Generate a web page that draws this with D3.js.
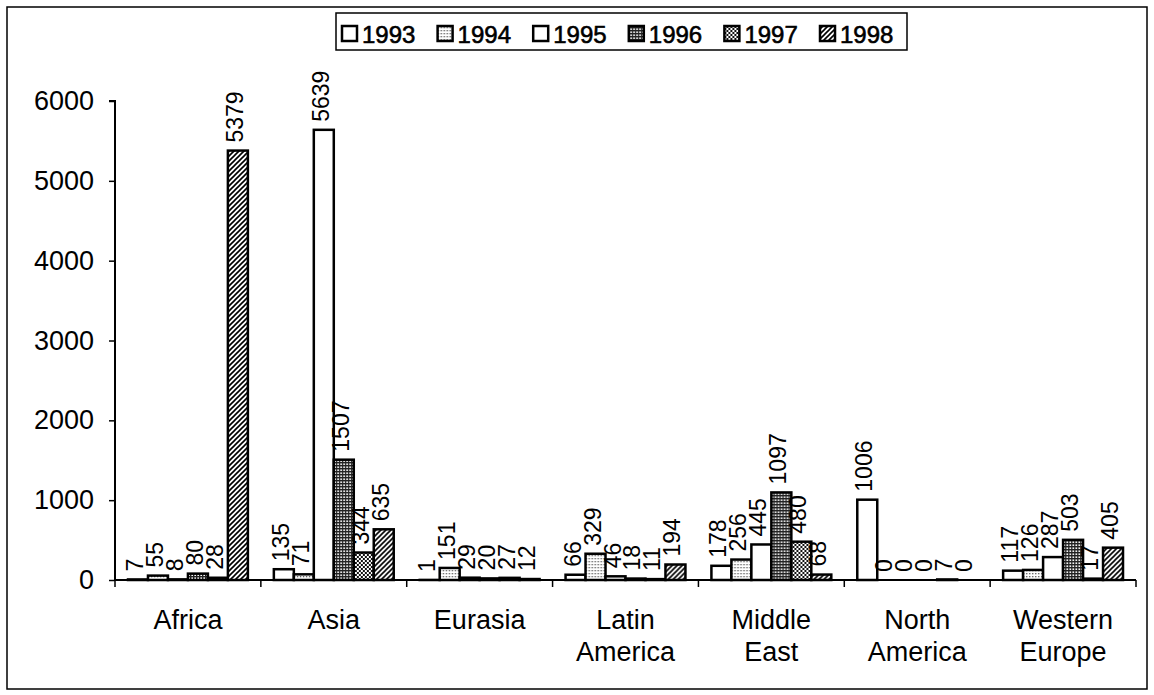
<!DOCTYPE html>
<html>
<head>
<meta charset="utf-8">
<script src="https://cdn.jsdelivr.net/npm/d3@7"></script>
<style>
  html, body { margin: 0; padding: 0; background: #fff; }
  svg { display: block; font-family: Arial, "Liberation Sans", sans-serif; }
</style>
</head>
<body>
<svg id="chart" width="1154" height="695"></svg>
<script>
// Regions on the category axis (wrapped onto two lines where needed)
const categories = ["Africa", "Asia", "Eurasia", "Latin America", "Middle East", "North America", "Western Europe"];
const categoryLines = [["Africa"], ["Asia"], ["Eurasia"], ["Latin", "America"], ["Middle", "East"], ["North", "America"], ["Western", "Europe"]];

// One series per year
const years = ["1993", "1994", "1995", "1996", "1997", "1998"];
const v1993 = [7, 135, 1, 66, 178, 1006, 117];
const v1994 = [55, 71, 151, 329, 256, 0, 126];
const v1995 = [8, 5639, 29, 46, 445, 0, 287];
const v1996 = [80, 1507, 20, 18, 1097, 0, 503];
const v1997 = [28, 344, 27, 11, 480, 7, 17];
const v1998 = [5379, 635, 12, 194, 68, 0, 405];
const seriesValues = [v1993, v1994, v1995, v1996, v1997, v1998];

const yTicks = [0, 1000, 2000, 3000, 4000, 5000, 6000];

const svg = d3.select("#chart");
const defs = svg.append("defs");

// Monochrome fill patterns, one per year
function addPattern(id, size, draw) {
  const p = defs.append("pattern")
    .attr("id", id)
    .attr("patternUnits", "userSpaceOnUse")
    .attr("width", size).attr("height", size);
  p.append("rect").attr("width", size).attr("height", size).attr("fill", "#fff");
  draw(p);
}
// fine grey stipple
addPattern("pFine", 3, p => {
  p.append("rect").attr("x", 0).attr("y", 0).attr("width", 1.3).attr("height", 1.3).attr("fill", "#555");
});
// dense dark grid
addPattern("pGrid", 3, p => {
  p.append("rect").attr("x", 0).attr("y", 0).attr("width", 3).attr("height", 1.4).attr("fill", "#222");
  p.append("rect").attr("x", 0).attr("y", 0).attr("width", 1.4).attr("height", 3).attr("fill", "#222");
});
// coarse checker dots
addPattern("pCheck", 4, p => {
  p.append("rect").attr("x", 0).attr("y", 0).attr("width", 2).attr("height", 2).attr("fill", "#111");
  p.append("rect").attr("x", 2).attr("y", 2).attr("width", 2).attr("height", 2).attr("fill", "#111");
});
// diagonal hatch ////
addPattern("pHatch", 5, p => {
  p.append("path").attr("d", "M-1,6 L6,-1 M-1,1 L1,-1 M4,6 L6,4")
    .attr("stroke", "#000").attr("stroke-width", 1.6);
});

const fills = ["#fff", "url(#pFine)", "#fff", "url(#pGrid)", "url(#pCheck)", "url(#pHatch)"];

// Outer frame
svg.append("rect")
  .attr("x", 7).attr("y", 7).attr("width", 1140).attr("height", 682)
  .attr("fill", "none").attr("stroke", "#000").attr("stroke-width", 1.5);

// Scales
const x0 = d3.scaleBand().domain(categories).range([115, 1136]).paddingInner(0).paddingOuter(0);
const x1 = d3.scaleBand().domain(years).range([0, x0.bandwidth()]).paddingInner(0).paddingOuter(0.65);
const y = d3.scaleLinear().domain([0, 6000]).range([580, 101]);

// Y axis
const yAxis = svg.append("g")
  .attr("transform", "translate(115,0)")
  .call(d3.axisLeft(y).tickValues(yTicks).tickSize(6).tickPadding(15).tickFormat(d3.format("d")));
yAxis.select(".domain").attr("stroke", "#000").attr("stroke-width", 2).attr("d", `M-6,${y(6000)}H0V${y(0)}`);
yAxis.selectAll(".tick line").attr("stroke", "#000").attr("stroke-width", 1.5);
yAxis.selectAll(".tick text")
  .attr("font-size", 27).attr("fill", "#000")
  .attr("font-family", "Arial, 'Liberation Sans', sans-serif");

// Bars
const groups = svg.append("g").selectAll("g")
  .data(categories)
  .join("g")
  .attr("transform", d => `translate(${x0(d)},0)`);

const barData = ci => years.map((yr, si) => ({ year: yr, si, value: seriesValues[si][ci] }));

groups.each(function (c, ci) {
  const g = d3.select(this);
  const rows = barData(ci);
  g.selectAll("rect")
    .data(rows)
    .join("rect")
    .attr("x", d => x1(d.year))
    .attr("y", d => y(d.value))
    .attr("width", x1.bandwidth())
    .attr("height", d => y(0) - y(d.value))
    .attr("fill", d => fills[d.si])
    .attr("stroke", "#000")
    .attr("stroke-width", 2.5);

  // Value labels, rotated to read upward
  g.selectAll("text")
    .data(rows)
    .join("text")
    .attr("transform", d => `translate(${x1(d.year) + x1.bandwidth() / 2 + 5},${y(d.value) - 8}) rotate(-90)`)
    .attr("text-anchor", "start")
    .attr("font-size", 23)
    .attr("fill", "#000")
    .text(d => d.value);
});

// X axis (drawn over the bar bases)
const xAxis = svg.append("g").attr("transform", `translate(0,${y(0)})`);
xAxis.append("line")
  .attr("x1", 115).attr("x2", 1136).attr("y1", 0).attr("y2", 0)
  .attr("stroke", "#000").attr("stroke-width", 2);
const boundaries = categories.map(c => x0(c)).concat([x0.range()[1]]);
xAxis.selectAll("line.tk")
  .data(boundaries)
  .join("line")
  .attr("class", "tk")
  .attr("x1", d => d).attr("x2", d => d)
  .attr("y1", 0).attr("y2", 7)
  .attr("stroke", "#000").attr("stroke-width", 1.5);

// Category labels
const catLabels = svg.append("g").selectAll("text")
  .data(categories)
  .join("text")
  .attr("text-anchor", "middle")
  .attr("font-size", 27)
  .attr("fill", "#000")
  .attr("x", d => x0(d) + x0.bandwidth() / 2)
  .attr("y", 629);
catLabels.each(function (d, i) {
  d3.select(this).selectAll("tspan")
    .data(categoryLines[i])
    .join("tspan")
    .attr("x", x0(d) + x0.bandwidth() / 2)
    .attr("dy", (t, k) => (k === 0 ? 0 : 32))
    .text(t => t);
});

// Legend
const legend = svg.append("g");
legend.append("rect")
  .attr("x", 336).attr("y", 13).attr("width", 571).attr("height", 37)
  .attr("fill", "#fff").attr("stroke", "#000").attr("stroke-width", 1.5);
const legX = d3.scalePoint().domain(years).range([342, 820]);
const items = legend.selectAll("g.item")
  .data(years)
  .join("g")
  .attr("class", "item")
  .attr("transform", d => `translate(${legX(d)},24)`);
items.append("rect")
  .attr("x", 0).attr("y", 2).attr("width", 15).attr("height", 15)
  .attr("fill", (d, i) => fills[i])
  .attr("stroke", "#000").attr("stroke-width", 2.5);
items.append("text")
  .attr("x", 20).attr("y", 19)
  .attr("font-size", 24)
  .attr("fill", "#000")
  .attr("stroke", "#000").attr("stroke-width", 0.6)
  .text(d => d);
</script>
</body>
</html>
